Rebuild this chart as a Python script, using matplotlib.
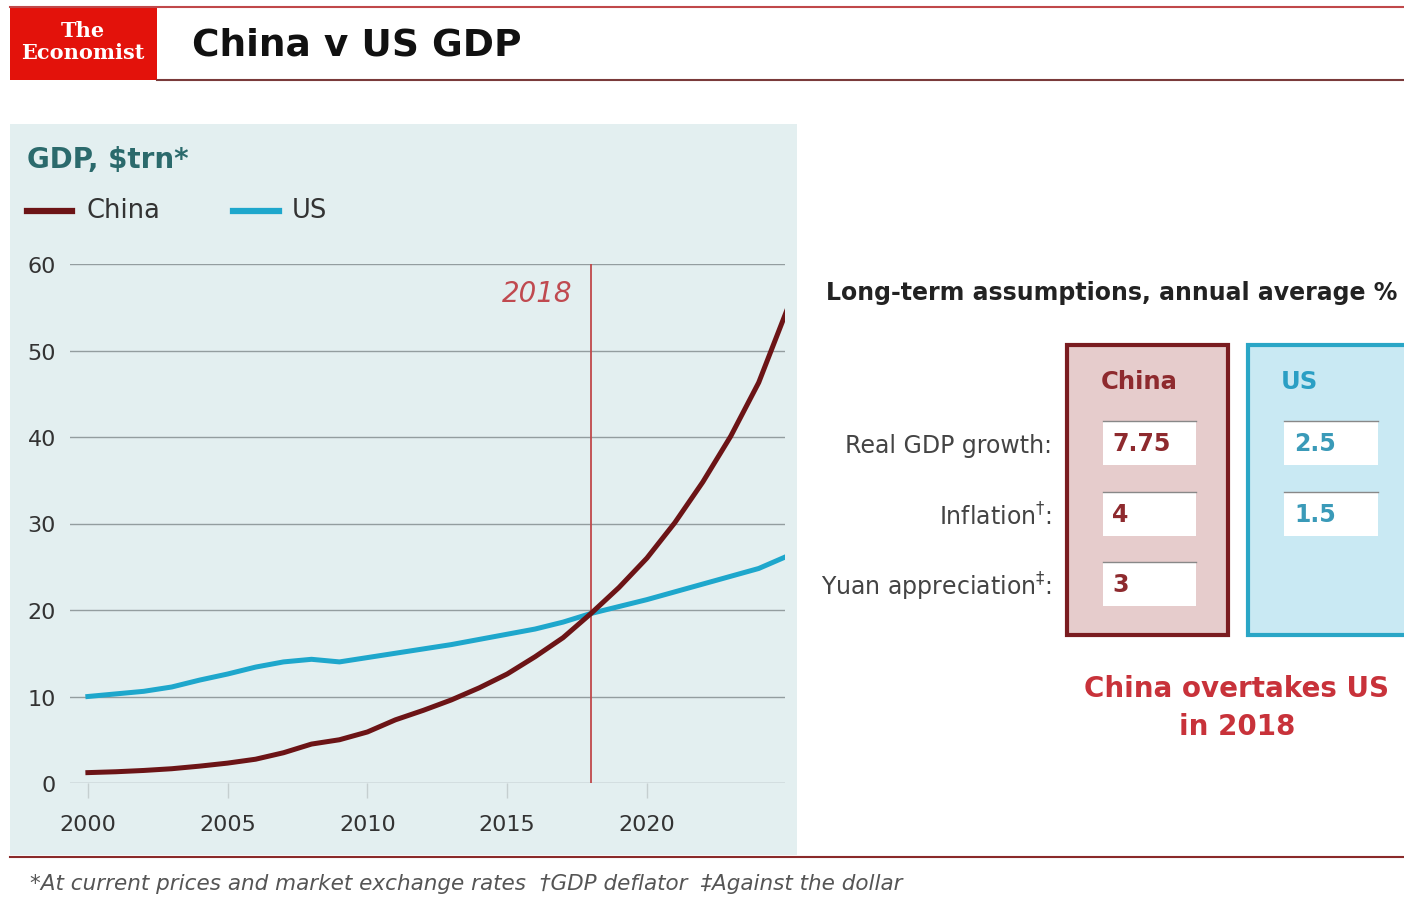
import matplotlib.pyplot as plt
from matplotlib.patches import Rectangle
from matplotlib.lines import Line2D

# GDP, $trn
years = [2000, 2001, 2002, 2003, 2004, 2005, 2006, 2007, 2008, 2009, 2010, 2011, 2012,
         2013, 2014, 2015, 2016, 2017, 2018, 2019, 2020, 2021, 2022, 2023, 2024, 2025]
china = [1.2, 1.3, 1.45, 1.65, 1.95, 2.3, 2.75, 3.5, 4.5, 5.0, 5.9, 7.3, 8.4,
         9.6, 11.0, 12.6, 14.6, 16.8, 19.6, 22.6, 26.0, 30.1, 34.8, 40.1, 46.3, 54.6]
us = [10.0, 10.3, 10.6, 11.1, 11.9, 12.6, 13.4, 14.0, 14.3, 14.0, 14.5, 15.0, 15.5,
      16.0, 16.6, 17.2, 17.8, 18.6, 19.6, 20.4, 21.2, 22.1, 23.0, 23.9, 24.8, 26.2]
cross_year = 2018

# assumptions table
rows = ['Real GDP growth:', 'Inflation$^{\u2020}$:', 'Yuan appreciation$^{\u2021}$:']
china_vals = ['7.75', '4', '3']
us_vals = ['2.5', '1.5']

W, H = 1404, 904
fig = plt.figure(figsize=(W / 100, H / 100), dpi=100)
fig.patch.set_facecolor('white')


def fx(x):
    return x / W


def fy(y):
    return 1 - y / H


def rect(x0, y0, x1, y1, **kw):
    fig.patches.append(Rectangle((fx(x0), fy(y1)), fx(x1) - fx(x0), fy(y0) - fy(y1),
                                 transform=fig.transFigure, **kw))


def hline(x0, x1, y, **kw):
    fig.add_artist(Line2D([fx(x0), fx(x1)], [fy(y), fy(y)], transform=fig.transFigure, **kw))


CHINA_C = '#6c1416'
US_C = '#1ea7cc'
RED = '#c8323a'

# header
hline(10, 1404, 8, color='#c0484a', lw=1.5)
rect(10, 9, 157, 81, facecolor='#e3120b', edgecolor='none')
fig.text(fx(83), fy(31), 'The', color='white', fontsize=15, fontweight='bold',
         family='DejaVu Serif', ha='center', va='center')
fig.text(fx(83), fy(53), 'Economist', color='white', fontsize=15, fontweight='bold',
         family='DejaVu Serif', ha='center', va='center')
fig.text(fx(192), fy(46), 'China v US GDP', fontsize=27, fontweight='bold',
         color='#111111', ha='left', va='center')
hline(157, 1404, 81, color='#7a3a3a', lw=1.5)

# chart panel background
rect(10, 125, 797, 856, facecolor='#e3eff0', edgecolor='none', zorder=-1)

fig.text(fx(27), fy(160), 'GDP, $trn*', fontsize=20, fontweight='bold',
         color='#2b6a6c', ha='left', va='center')
hline(27, 72, 212, color=CHINA_C, lw=4.5)
fig.text(fx(86), fy(211), 'China', fontsize=18.5, color='#333333', ha='left', va='center')
hline(233, 279, 212, color=US_C, lw=4.5)
fig.text(fx(292), fy(211), 'US', fontsize=18.5, color='#333333', ha='left', va='center')

ax = fig.add_axes([fx(70), fy(784), fx(785) - fx(70), fy(265) - fy(784)])
ax.set_facecolor('none')
ax.set_xlim(1999.36, 2024.94)
ax.set_ylim(0, 60)
ax.set_yticks(range(0, 61, 10))
ax.set_xticks(range(2000, 2021, 5))
ax.grid(axis='y', color='#939d9f', lw=1)
ax.tick_params(axis='y', length=0, labelsize=16, labelcolor='#333333', pad=10)
ax.tick_params(axis='x', length=11, width=1, color='#c5cfd0', labelsize=16,
               labelcolor='#333333', pad=11)
for s in ax.spines.values():
    s.set_visible(False)

ax.axvline(cross_year, color='#c0484a', lw=1.3, zorder=2)
ax.text(cross_year - 0.65, 56.7, str(cross_year), color='#c04a50', fontsize=20,
        style='italic', ha='right', va='center')
ax.plot(years, us, color=US_C, lw=3.6, zorder=3)
ax.plot(years, china, color=CHINA_C, lw=3.6, zorder=4)

# right-hand assumptions panel
fig.text(fx(826), fy(293), 'Long-term assumptions, annual average %', fontsize=17,
         fontweight='bold', color='#222222', ha='left', va='center')
rect(1067, 346, 1228, 636, facecolor='#e6cccc', edgecolor='#7a1c20', lw=3)
rect(1248, 346, 1420, 636, facecolor='#c9e9f3', edgecolor='#2aa6c6', lw=3)
fig.text(fx(1139), fy(382), 'China', fontsize=17.5, fontweight='bold', color='#8e2a2e',
         ha='center', va='center')
fig.text(fx(1281), fy(382), 'US', fontsize=17.5, fontweight='bold', color='#2a9fc4',
         ha='left', va='center')

row_y = [444, 515, 585]
for label, yy in zip(rows, row_y):
    fig.text(fx(1052), fy(yy + 2), label, fontsize=17, color='#444444', ha='right', va='center')
for val, yy in zip(china_vals, row_y):
    rect(1103, yy - 22, 1196, yy + 22, facecolor='white', edgecolor='none')
    hline(1103, 1196, yy - 22, color='#888888', lw=1)
    fig.text(fx(1112), fy(yy), val, fontsize=17, fontweight='bold', color='#8e2a2e',
             ha='left', va='center')
for val, yy in zip(us_vals, row_y):
    rect(1284, yy - 22, 1378, yy + 22, facecolor='white', edgecolor='none')
    hline(1284, 1378, yy - 22, color='#888888', lw=1)
    fig.text(fx(1294), fy(yy), val, fontsize=17, fontweight='bold', color='#3a9ab8',
             ha='left', va='center')

fig.text(fx(1237), fy(708), 'China overtakes US\nin 2018', fontsize=20, fontweight='bold',
         color=RED, ha='center', va='center', linespacing=1.45)

# footer
hline(10, 1404, 858, color='#8a2a2a', lw=1.5)
fig.text(fx(30), fy(884), '*At current prices and market exchange rates  \u2020GDP deflator  '
         '\u2021Against the dollar', fontsize=15.5, style='italic', color='#555555',
         ha='left', va='center')

fig.savefig('out.png', dpi=100)
